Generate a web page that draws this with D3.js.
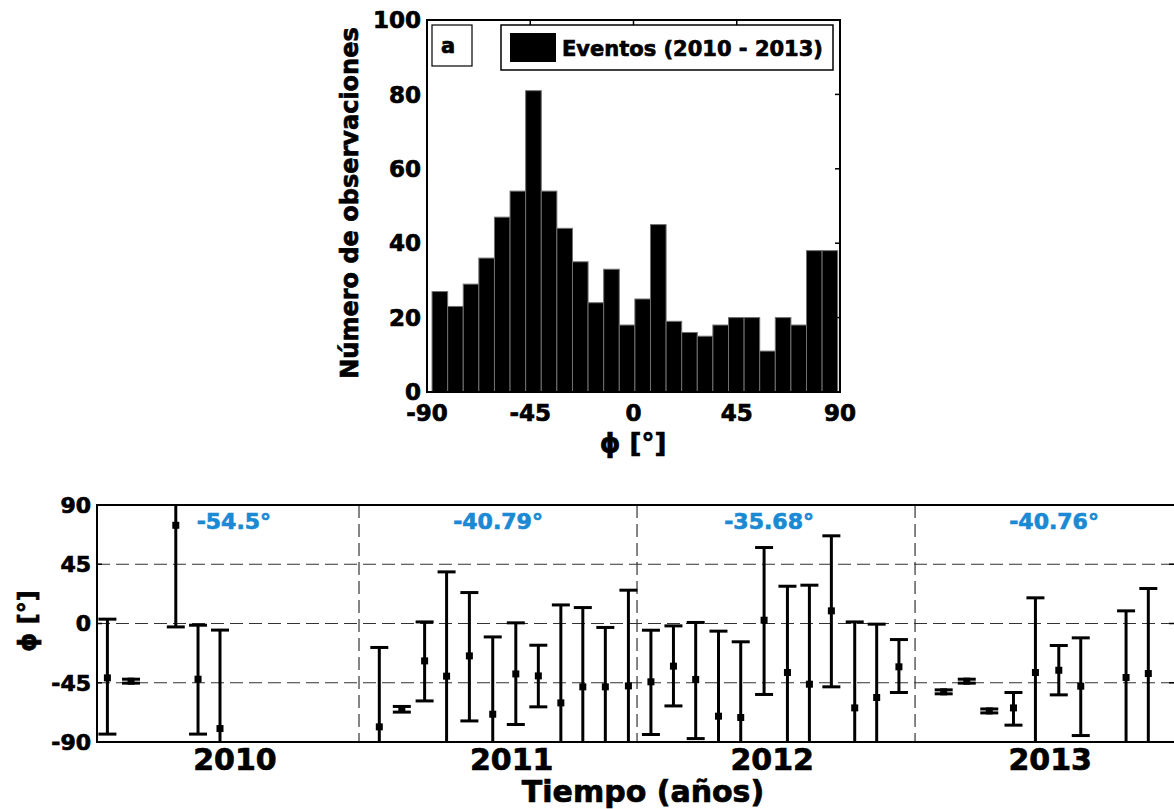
<!DOCTYPE html>
<html>
<head>
<meta charset="utf-8">
<script src="https://cdn.jsdelivr.net/npm/d3@7"></script>
<style>
    body { margin: 0; background: #fff; }
    text { font-family: "DejaVu Sans", sans-serif; font-weight: bold; stroke: #000; stroke-width: 0.7px; }
    text.mean { stroke: #1a8ad4; }
</style>
</head>
<body>
<div id="my_dataviz"></div>
<script>
// ---- data ----
// histogram (panel a)
var binStart = -87.8,
    binWidth = 6.8;
var counts = [27, 23, 29, 36, 47, 54, 81, 54, 44, 35, 24, 33, 18, 25, 45, 19, 16, 15, 18, 20, 20, 11, 20, 18, 38, 38];
var histXTicks = [-90, -45, 0, 45, 90];
var histYTicks = [0, 20, 40, 60, 80, 100];

// monthly angle series (decimal years)
var tObs = [2010.095, 2010.180, 2010.341, 2010.421, 2010.500,
    2011.073, 2011.154, 2011.236, 2011.315, 2011.397, 2011.481, 2011.564, 2011.645, 2011.726, 2011.805, 2011.886, 2011.969,
    2012.050, 2012.131, 2012.211, 2012.293, 2012.373, 2012.457, 2012.541, 2012.620, 2012.699, 2012.783, 2012.862, 2012.942,
    2013.103, 2013.186, 2013.267, 2013.354, 2013.433, 2013.517, 2013.596, 2013.759, 2013.839];
var phiMean = [-41.3, -43.8, 74.6, -42.3, -79.8,
    -78.5, -65.1, -28.4, -40.0, -24.6, -68.9, -38.3, -39.8, -60.3, -48.1, -48.1, -47.4,
    -44.3, -32.4, -42.5, -70.4, -71.4, 2.5, -37.2, -46.1, 9.6, -64.1, -56.2, -32.9,
    -51.9, -43.8, -66.4, -64.1, -37.2, -35.5, -47.6, -41.0, -38.0];
var phiHigh = [3.3, -42.3, 100, -1.3, -5.0,
    -18.2, -63.0, 1.2, 39.2, 23.5, -10.2, 0.5, -16.5, 14.1, 12.1, -3.0, 25.3,
    -5.1, -1.8, 0.8, -5.8, -13.9, 57.7, 28.3, 29.1, 66.6, 1.2, -0.5, -12.2,
    -50.4, -42.3, -64.9, -52.4, 19.5, -16.7, -10.9, 9.6, 26.6];
var phiLow = [-84.0, -45.3, -2.6, -84.0, -100,
    -100, -67.3, -58.8, -100, -74.0, -100, -76.7, -63.3, -100, -100, -100, -100,
    -84.3, -62.6, -87.4, -100, -100, -53.9, -100, -100, -48.1, -100, -100, -52.4,
    -53.4, -45.3, -67.9, -77.2, -100, -54.2, -85.1, -100, -100];

// yearly means
var years = ["2010", "2011", "2012", "2013"];
var yearLabelPos = [2010.554, 2011.549, 2012.486, 2013.486];
var yearMeans = ["-54.5°", "-40.79°", "-35.68°", "-40.76°"];
var meanLabelPos = [2010.55, 2011.50, 2012.475, 2013.50];
var yearBreaks = [2011, 2012, 2013];
var phiTicks = [90, 45, 0, -45, -90];
var phiGrid = [45, 0, -45];

var W = 1174,
    H = 809;

var svg = d3.select("#my_dataviz")
    .append("svg")
    .attr("width", W)
    .attr("height", H);

// ================= histogram =================
var hx = d3.scaleLinear().domain([-90, 90]).range([427, 840]);
var hy = d3.scaleLinear().domain([0, 100]).range([392, 20]);

var hist = svg.append("g");

hist.selectAll("rect.bar")
    .data(counts)
    .enter()
    .append("rect")
    .attr("class", "bar")
    .attr("x", function(d, i) { return hx(binStart + i * binWidth); })
    .attr("width", function(d, i) { return hx(binStart + (i + 1) * binWidth) - hx(binStart + i * binWidth); })
    .attr("y", function(d) { return hy(d); })
    .attr("height", function(d) { return hy(0) - hy(d); })
    .attr("fill", "#000")
    .attr("stroke", "#707070")
    .attr("stroke-width", 1);

// frame
hist.append("rect")
    .attr("x", hx(-90)).attr("y", hy(100))
    .attr("width", hx(90) - hx(-90)).attr("height", hy(0) - hy(100))
    .attr("fill", "none").attr("stroke", "#000").attr("stroke-width", 2);

// inward ticks top / right
hist.selectAll("line.tt")
    .data(histXTicks.slice(1, -1))
    .enter().append("line")
    .attr("x1", function(d) { return hx(d); }).attr("x2", function(d) { return hx(d); })
    .attr("y1", hy(100)).attr("y2", hy(100) + 5)
    .attr("stroke", "#000").attr("stroke-width", 1.5);
hist.selectAll("line.rt")
    .data(histYTicks.slice(1, -1))
    .enter().append("line")
    .attr("x1", hx(90)).attr("x2", hx(90) - 5)
    .attr("y1", function(d) { return hy(d); }).attr("y2", function(d) { return hy(d); })
    .attr("stroke", "#000").attr("stroke-width", 1.5);

// tick labels
hist.selectAll("text.xl")
    .data(histXTicks)
    .enter().append("text")
    .attr("x", function(d) { return hx(d); })
    .attr("y", 421)
    .attr("text-anchor", "middle")
    .style("font-size", "23px")
    .text(function(d) { return d; });
hist.selectAll("text.yl")
    .data(histYTicks)
    .enter().append("text")
    .attr("x", 421)
    .attr("y", function(d) { return hy(d); })
    .attr("dy", "0.36em")
    .attr("text-anchor", "end")
    .style("font-size", "23px")
    .text(function(d) { return d; });

hist.append("text")
    .attr("transform", "translate(358,203) rotate(-90)")
    .attr("text-anchor", "middle")
    .style("font-size", "24px")
    .text("Número de observaciones");
hist.append("text")
    .attr("x", 633).attr("y", 452)
    .attr("text-anchor", "middle")
    .style("font-size", "26px")
    .text("ϕ [°]");

// panel letter + legend
hist.append("rect")
    .attr("x", 432).attr("y", 25).attr("width", 40).attr("height", 41)
    .attr("fill", "#fff").attr("stroke", "#000").attr("stroke-width", 1.2);
hist.append("text")
    .attr("x", 441).attr("y", 53)
    .style("font-size", "21px")
    .text("a");
hist.append("rect")
    .attr("x", 501).attr("y", 25).attr("width", 332).attr("height", 45)
    .attr("fill", "#fff").attr("stroke", "#000").attr("stroke-width", 1.5);
hist.append("rect")
    .attr("x", 510).attr("y", 33).attr("width", 46).attr("height", 29)
    .attr("fill", "#000");
hist.append("text")
    .attr("x", 562).attr("y", 56)
    .style("font-size", "21px")
    .text("Eventos (2010 - 2013)");

// ================= time series =================
var pLeft = 97,
    pRight = 1175,
    pTop = 505,
    pBottom = 742;

var x = d3.scaleLinear().domain([2010.0576, 2013.935]).range([pLeft, pRight]);
var y = d3.scaleLinear().domain([-90, 90]).range([pBottom, pTop]);

var ts = svg.append("g");

ts.append("clipPath").attr("id", "plotclip")
    .append("rect")
    .attr("x", pLeft).attr("y", pTop)
    .attr("width", pRight - pLeft).attr("height", pBottom - pTop);

// dashed grid
ts.selectAll("line.hg")
    .data(phiGrid)
    .enter().append("line")
    .attr("x1", pLeft).attr("x2", pRight)
    .attr("y1", function(d) { return y(d); }).attr("y2", function(d) { return y(d); })
    .attr("stroke", "#333").attr("stroke-width", 1.2)
    .attr("stroke-dasharray", "13,6");
ts.selectAll("line.vg")
    .data(yearBreaks)
    .enter().append("line")
    .attr("x1", function(d) { return x(d); }).attr("x2", function(d) { return x(d); })
    .attr("y1", pTop).attr("y2", pBottom)
    .attr("stroke", "#333").attr("stroke-width", 1.2)
    .attr("stroke-dasharray", "13,6");

// error bars
var idx = d3.range(tObs.length);
var eb = ts.append("g").attr("clip-path", "url(#plotclip)");
var capW = 9;

eb.selectAll("line.stem")
    .data(idx)
    .enter().append("line")
    .attr("x1", function(i) { return x(tObs[i]); }).attr("x2", function(i) { return x(tObs[i]); })
    .attr("y1", function(i) { return y(phiHigh[i]); }).attr("y2", function(i) { return y(phiLow[i]); })
    .attr("stroke", "#000").attr("stroke-width", 3);
eb.selectAll("line.capH")
    .data(idx)
    .enter().append("line")
    .attr("x1", function(i) { return x(tObs[i]) - capW; }).attr("x2", function(i) { return x(tObs[i]) + capW; })
    .attr("y1", function(i) { return y(phiHigh[i]); }).attr("y2", function(i) { return y(phiHigh[i]); })
    .attr("stroke", "#000").attr("stroke-width", 3);
eb.selectAll("line.capL")
    .data(idx)
    .enter().append("line")
    .attr("x1", function(i) { return x(tObs[i]) - capW; }).attr("x2", function(i) { return x(tObs[i]) + capW; })
    .attr("y1", function(i) { return y(phiLow[i]); }).attr("y2", function(i) { return y(phiLow[i]); })
    .attr("stroke", "#000").attr("stroke-width", 3);
eb.selectAll("rect.mk")
    .data(idx)
    .enter().append("rect")
    .attr("x", function(i) { return x(tObs[i]) - 3.5; })
    .attr("y", function(i) { return y(phiMean[i]) - 3.5; })
    .attr("width", 7).attr("height", 7)
    .attr("fill", "#000");

// frame (right side falls outside the window)
ts.append("path")
    .attr("d", "M" + pRight + "," + pTop + "H" + pLeft + "V" + pBottom + "H" + pRight)
    .attr("fill", "none").attr("stroke", "#000").attr("stroke-width", 2);

// inward ticks
ts.selectAll("line.lt")
    .data(phiGrid)
    .enter().append("line")
    .attr("x1", pLeft).attr("x2", pLeft + 5)
    .attr("y1", function(d) { return y(d); }).attr("y2", function(d) { return y(d); })
    .attr("stroke", "#000").attr("stroke-width", 1.5);
ts.selectAll("line.rtk")
    .data(phiGrid)
    .enter().append("line")
    .attr("x1", pRight - 6).attr("x2", pRight)
    .attr("y1", function(d) { return y(d); }).attr("y2", function(d) { return y(d); })
    .attr("stroke", "#000").attr("stroke-width", 1.5);

ts.selectAll("text.pl")
    .data(phiTicks)
    .enter().append("text")
    .attr("x", 91)
    .attr("y", function(d) { return y(d); })
    .attr("dy", "0.36em")
    .attr("text-anchor", "end")
    .style("font-size", "22px")
    .text(function(d) { return d; });

ts.selectAll("text.yr")
    .data(years)
    .enter().append("text")
    .attr("x", function(d, i) { return x(yearLabelPos[i]); })
    .attr("y", 770)
    .attr("text-anchor", "middle")
    .style("font-size", "30px")
    .text(function(d) { return d; });

ts.selectAll("text.mean")
    .data(yearMeans)
    .enter().append("text")
    .attr("class", "mean")
    .attr("x", function(d, i) { return x(meanLabelPos[i]); })
    .attr("y", 529)
    .attr("text-anchor", "middle")
    .attr("fill", "#1a8ad4")
    .style("font-size", "22px")
    .text(function(d) { return d; });

ts.append("text")
    .attr("x", 643).attr("y", 802)
    .attr("text-anchor", "middle")
    .style("font-size", "30px")
    .text("Tiempo (años)");
ts.append("text")
    .attr("transform", "translate(36,621) rotate(-90)")
    .attr("text-anchor", "middle")
    .style("font-size", "24px")
    .text("ϕ [°]");
</script>
</body>
</html>
